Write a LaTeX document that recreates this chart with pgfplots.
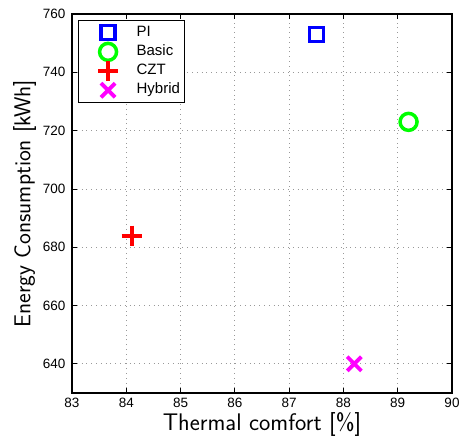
\documentclass[border=0pt]{standalone}
\usepackage{pgfplots}
\pgfplotsset{compat=1.18}
\usepackage{fontspec}
\setmainfont{Liberation Sans}
\definecolor{mblue}{RGB}{0,0,255}
\definecolor{mgreen}{RGB}{0,255,0}
\definecolor{mred}{RGB}{255,0,0}
\definecolor{mmag}{RGB}{255,0,255}
\begin{document}
\begin{tikzpicture}
\begin{axis}[
    scale only axis,
    width=380pt, height=379pt,
    xmin=83, xmax=90, ymin=630, ymax=760,
    xtick={83,...,90}, ytick={640,660,...,760},
    tick align=inside,
    major tick length=5pt,
    axis line style={line width=1.2pt},
    every tick/.style={black, line width=0.8pt},
    grid=major,
    grid style={gray!80, line width=0.8pt, dash pattern=on 0.8pt off 4pt},
    tick label style={font=\fontsize{13.5}{15}\selectfont},
    yticklabel style={xshift=-3pt},
    xticklabel style={yshift=-2pt},
    /pgf/number format/assume math mode=true,
    xlabel={\fontsize{24}{26}\selectfont\sffamily Thermal comfort [\%]},
    ylabel={\fontsize{23}{26}\selectfont\sffamily Energy Consumption [kWh]},
    xlabel style={yshift=2pt},
    legend style={at={(0.016,0.984)}, anchor=north west, draw=black, line width=1pt,
        font=\fontsize{15}{17}\selectfont, inner sep=2.5pt,
        nodes={text height=10.7pt, text depth=3.5pt, inner sep=2.5pt},
        cells={anchor=west}},
    legend cell align=left,
    legend image code/.code={%
        \path (0pt,0pt) (49pt,0pt);
        \draw[overlay,mark repeat=2,mark phase=2,#1] plot coordinates {(0pt,0pt) (25pt,0pt) (50pt,0pt)};},
]
\addplot[only marks, mblue, mark=square, mark size=7pt, line width=3.5pt] coordinates {(87.5,753)};
\addplot[only marks, mgreen, mark=o, mark size=8.5pt, line width=3.5pt] coordinates {(89.2,723)};
\addplot[only marks, mred, mark=+, mark size=10pt, line width=4pt] coordinates {(84.1,684)};
\addplot[only marks, mmag, mark=x, mark size=10pt, line width=3.8pt] coordinates {(88.2,640)};
\legend{PI, Basic, CZT, Hybrid}
\end{axis}
\path ([xshift=-72pt,yshift=14pt]current axis.north west) rectangle ([xshift=11pt,yshift=-50pt]current axis.south east);
\end{tikzpicture}
\end{document}
